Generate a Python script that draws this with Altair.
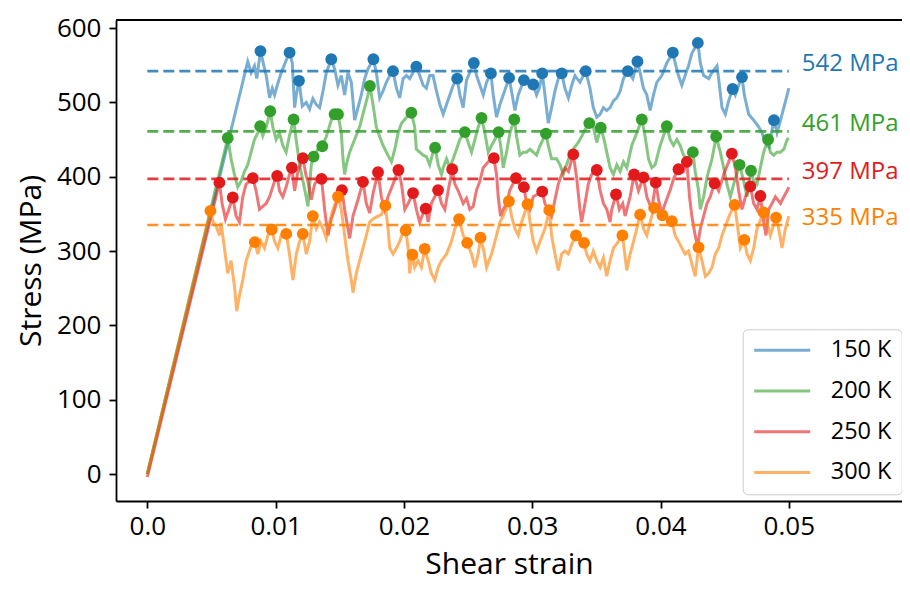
import altair as alt
import pandas as pd

# ---------------- data ----------------
TEMPS = ["150 K", "200 K", "250 K", "300 K"]
COLORS = ["#1f78b4", "#33a02c", "#e31a1c", "#ff7f00"]
PLATEAU = [542, 461, 397, 335]
PLATEAU_LABELS = ["542 MPa", "461 MPa", "397 MPa", "335 MPa"]
PLATEAU_RANGE = [0.0, 0.05]
X_TICKS = [0.0, 0.01, 0.02, 0.03, 0.04, 0.05]
Y_TICKS = [0, 100, 200, 300, 400, 500, 600]

CURVE_150K = [
    (0.0, 0), (0.00783, 555), (0.00809, 540), (0.00835, 549), (0.00853, 532), (0.00882, 569),
    (0.00906, 551), (0.00927, 536), (0.00953, 506), (0.00974, 519), (0.00992, 510), (0.0102, 527),
    (0.01044, 540), (0.01083, 557), (0.01109, 567), (0.0113, 553), (0.01148, 493), (0.01161, 510),
    (0.01182, 529), (0.01208, 495), (0.01239, 500), (0.01265, 491), (0.0129, 505), (0.01317, 497),
    (0.01343, 493), (0.01369, 515), (0.01395, 540), (0.01434, 558), (0.0146, 545), (0.01486, 523),
    (0.01512, 536), (0.01538, 510), (0.01564, 540), (0.0159, 527), (0.01616, 476), (0.01642, 493),
    (0.01668, 510), (0.01694, 532), (0.0172, 545), (0.01762, 558), (0.01785, 540), (0.01811, 506),
    (0.01837, 515), (0.01863, 527), (0.0189, 536), (0.01915, 542), (0.01942, 519), (0.01967, 506),
    (0.01994, 532), (0.0202, 536), (0.02045, 532), (0.02097, 548), (0.02123, 536), (0.0215, 523),
    (0.02175, 519), (0.02201, 536), (0.02227, 536), (0.02254, 515), (0.0228, 497), (0.02306, 484),
    (0.02332, 497), (0.02358, 510), (0.02384, 523), (0.02415, 532), (0.02436, 510), (0.02462, 493),
    (0.02488, 530), (0.02545, 553), (0.02566, 536), (0.02592, 523), (0.02618, 510), (0.02644, 527),
    (0.02678, 539), (0.02696, 510), (0.02722, 480), (0.02748, 497), (0.02774, 510), (0.0282, 533),
    (0.02839, 515), (0.02865, 489), (0.02891, 510), (0.02935, 530), (0.0297, 527), (0.03008, 524),
    (0.03034, 510), (0.03055, 519), (0.03078, 539), (0.03099, 510), (0.03125, 472), (0.03151, 493),
    (0.03177, 515), (0.03203, 532), (0.0323, 539), (0.03255, 519), (0.03282, 506), (0.03308, 523),
    (0.03333, 536), (0.03372, 527), (0.03417, 542), (0.0345, 519), (0.03476, 493), (0.03503, 480),
    (0.03529, 484), (0.03555, 493), (0.03581, 489), (0.03607, 493), (0.03633, 502), (0.03659, 506),
    (0.03685, 515), (0.03711, 532), (0.03745, 542), (0.03784, 532), (0.0382, 555), (0.03841, 540),
    (0.03867, 519), (0.03893, 510), (0.03919, 489), (0.03945, 510), (0.03971, 527), (0.0401, 536),
    (0.04049, 553), (0.04096, 567), (0.04114, 553), (0.0414, 536), (0.04166, 523), (0.04192, 536),
    (0.04218, 549), (0.04244, 566), (0.04291, 580), (0.0431, 553), (0.04336, 536), (0.04375, 532),
    (0.04401, 540), (0.0444, 549), (0.04453, 532), (0.04479, 493), (0.04505, 484), (0.04531, 502),
    (0.04562, 518), (0.04583, 510), (0.04609, 523), (0.04635, 534), (0.04653, 510), (0.04687, 484),
    (0.04726, 476), (0.04765, 467), (0.04791, 459), (0.04817, 446), (0.04843, 440), (0.04884, 476),
    (0.04908, 459), (0.04935, 476), (0.04961, 493), (0.04987, 510), (0.05, 519),
]

CURVE_200K = [
    (0.0, 0), (0.00627, 452), (0.00653, 424), (0.00679, 403), (0.00705, 386), (0.00731, 394),
    (0.00757, 407), (0.00783, 416), (0.00809, 433), (0.00835, 450), (0.00861, 459), (0.0088, 468),
    (0.009, 455), (0.00927, 467), (0.00958, 488), (0.00978, 467), (0.01004, 450), (0.0103, 459),
    (0.01056, 442), (0.01082, 433), (0.01108, 455), (0.0114, 477), (0.0116, 450), (0.01187, 416),
    (0.01212, 395), (0.01239, 372), (0.01252, 360), (0.01278, 416), (0.01296, 427), (0.0133, 437),
    (0.01364, 441), (0.01395, 454), (0.01434, 476), (0.0146, 484), (0.01486, 484), (0.01512, 459),
    (0.01525, 424), (0.01538, 403), (0.01551, 416), (0.01577, 433), (0.01616, 450), (0.01655, 467),
    (0.01694, 493), (0.0172, 510), (0.01735, 522), (0.01759, 497), (0.01785, 467), (0.01811, 454),
    (0.01837, 442), (0.01863, 433), (0.0189, 424), (0.01903, 420), (0.01929, 437), (0.01955, 459),
    (0.01981, 472), (0.0202, 480), (0.02058, 486), (0.02084, 467), (0.02097, 437), (0.02123, 433),
    (0.0215, 429), (0.02175, 427), (0.02201, 416), (0.02227, 433), (0.02243, 439), (0.02267, 416),
    (0.02293, 403), (0.02306, 412), (0.02332, 424), (0.02358, 412), (0.02384, 424), (0.0241, 437),
    (0.02436, 450), (0.02475, 460), (0.02501, 446), (0.02527, 433), (0.02553, 450), (0.02579, 467),
    (0.02605, 479), (0.02631, 459), (0.02657, 433), (0.02683, 442), (0.02709, 450), (0.02738, 460),
    (0.02761, 433), (0.02774, 412), (0.028, 433), (0.02826, 459), (0.0286, 477), (0.02878, 454),
    (0.02904, 429), (0.0293, 433), (0.02956, 433), (0.02983, 437), (0.03008, 433), (0.03034, 429),
    (0.03061, 442), (0.03107, 458), (0.03125, 442), (0.03151, 424), (0.0319, 424), (0.03217, 416),
    (0.03242, 403), (0.03268, 416), (0.03294, 429), (0.0332, 437), (0.03359, 446), (0.03385, 454),
    (0.03411, 463), (0.03445, 472), (0.03476, 467), (0.03503, 446), (0.03534, 466), (0.0356, 450),
    (0.03581, 433), (0.03607, 412), (0.03633, 403), (0.03659, 416), (0.03685, 407), (0.03711, 420),
    (0.03737, 412), (0.03776, 442), (0.03815, 459), (0.03854, 477), (0.0388, 454), (0.03906, 424),
    (0.03932, 412), (0.03958, 416), (0.03997, 442), (0.04049, 468), (0.04075, 450), (0.04101, 442),
    (0.04127, 450), (0.04153, 442), (0.04179, 429), (0.04205, 424), (0.04252, 433), (0.0427, 407),
    (0.04296, 382), (0.0431, 356), (0.04336, 373), (0.04362, 399), (0.04401, 424), (0.04434, 454),
    (0.04466, 433), (0.04492, 412), (0.04518, 390), (0.04544, 373), (0.0457, 390), (0.04616, 416),
    (0.04648, 394), (0.04674, 373), (0.04705, 408), (0.04726, 394), (0.04752, 390), (0.04778, 412),
    (0.04804, 433), (0.04838, 450), (0.04856, 433), (0.04882, 429), (0.04908, 433), (0.04935, 433),
    (0.04961, 437), (0.04987, 450), (0.05, 452),
]

CURVE_250K = [
    (0.0, -4), (0.00562, 392), (0.00583, 364), (0.00609, 343), (0.00635, 356), (0.00666, 372),
    (0.00692, 347), (0.00718, 339), (0.00744, 373), (0.0077, 390), (0.00802, 394), (0.00822, 398),
    (0.00848, 381), (0.00874, 356), (0.009, 360), (0.00927, 364), (0.00953, 373), (0.00992, 394),
    (0.01012, 401), (0.0103, 381), (0.01056, 373), (0.01082, 386), (0.01108, 403), (0.01127, 412),
    (0.01148, 381), (0.01174, 407), (0.01212, 425), (0.01239, 400), (0.01252, 394), (0.01278, 369),
    (0.01304, 390), (0.01343, 399), (0.01358, 397), (0.01382, 356), (0.01408, 321), (0.01434, 343),
    (0.0146, 356), (0.01486, 373), (0.01517, 382), (0.01538, 356), (0.01564, 330), (0.01577, 317),
    (0.01603, 347), (0.01642, 369), (0.01681, 393), (0.01707, 364), (0.01733, 351), (0.01759, 377),
    (0.01798, 406), (0.01824, 373), (0.0185, 356), (0.01876, 373), (0.01915, 390), (0.01957, 409),
    (0.01981, 390), (0.02007, 356), (0.02033, 364), (0.02071, 378), (0.02097, 356), (0.02123, 339),
    (0.0215, 351), (0.0217, 357), (0.02189, 339), (0.02214, 364), (0.0224, 373), (0.02266, 382),
    (0.02293, 364), (0.02319, 356), (0.02345, 381), (0.02376, 410), (0.02397, 390), (0.02423, 381),
    (0.02462, 364), (0.02488, 371), (0.02514, 356), (0.0254, 360), (0.02566, 382), (0.02592, 394),
    (0.02618, 412), (0.02657, 420), (0.02701, 425), (0.02722, 403), (0.02735, 373), (0.02753, 347),
    (0.02774, 356), (0.028, 364), (0.02826, 382), (0.02873, 398), (0.02899, 390), (0.02935, 386),
    (0.02956, 364), (0.02983, 356), (0.03008, 373), (0.03047, 377), (0.03078, 380), (0.03099, 364),
    (0.03125, 356), (0.03151, 347), (0.03177, 369), (0.03203, 390), (0.03229, 403), (0.03255, 412),
    (0.03282, 407), (0.0332, 430), (0.03346, 399), (0.03372, 356), (0.03385, 339), (0.03411, 364),
    (0.03437, 390), (0.03463, 403), (0.03503, 409), (0.03529, 382), (0.03555, 364), (0.03581, 356),
    (0.03607, 339), (0.0362, 356), (0.03653, 376), (0.03679, 356), (0.03705, 364), (0.03724, 347),
    (0.03763, 373), (0.03794, 403), (0.03828, 381), (0.03867, 399), (0.03893, 373), (0.03932, 356),
    (0.03963, 392), (0.03984, 369), (0.0401, 351), (0.04036, 364), (0.04075, 382), (0.04106, 399),
    (0.0414, 410), (0.04179, 407), (0.04205, 420), (0.04226, 373), (0.04244, 347), (0.0427, 321),
    (0.04289, 306), (0.0431, 330), (0.04336, 347), (0.04362, 364), (0.04388, 373), (0.04421, 391),
    (0.04453, 381), (0.04492, 403), (0.04531, 420), (0.04556, 431), (0.04583, 412), (0.04609, 381),
    (0.04635, 356), (0.04661, 373), (0.047, 387), (0.04726, 364), (0.04752, 356), (0.04778, 374),
    (0.04804, 339), (0.04822, 321), (0.04843, 356), (0.04869, 364), (0.04895, 373), (0.04935, 364),
    (0.04961, 373), (0.04987, 381), (0.05, 386),
]

CURVE_300K = [
    (0.0, 0), (0.00492, 354), (0.00515, 338), (0.00536, 334), (0.00562, 321), (0.00575, 338),
    (0.00601, 304), (0.00627, 270), (0.00653, 287), (0.00679, 253), (0.00697, 219), (0.00718, 240),
    (0.00744, 261), (0.0077, 287), (0.00796, 300), (0.00822, 313), (0.00838, 312), (0.00861, 296),
    (0.00887, 313), (0.00913, 304), (0.0094, 321), (0.0097, 329), (0.00992, 313), (0.01018, 304),
    (0.01044, 321), (0.01083, 323), (0.01108, 296), (0.01135, 261), (0.01161, 296), (0.01187, 313),
    (0.01212, 323), (0.01239, 296), (0.01265, 313), (0.0129, 347), (0.01317, 330), (0.01343, 339),
    (0.01369, 330), (0.01395, 317), (0.01421, 339), (0.01447, 356), (0.01486, 373), (0.01512, 356),
    (0.01538, 321), (0.01564, 287), (0.0159, 261), (0.01603, 244), (0.01629, 270), (0.01655, 287),
    (0.01681, 304), (0.01707, 321), (0.01733, 339), (0.01759, 343), (0.01798, 347), (0.01824, 349),
    (0.01855, 361), (0.01876, 330), (0.0189, 304), (0.01915, 296), (0.01942, 304), (0.01967, 313),
    (0.01994, 326), (0.02014, 328), (0.02033, 304), (0.02045, 270), (0.02066, 295), (0.02084, 278),
    (0.0211, 287), (0.02136, 278), (0.02162, 303), (0.02189, 287), (0.02214, 270), (0.0224, 261),
    (0.02267, 278), (0.02293, 287), (0.02332, 296), (0.02371, 313), (0.02397, 330), (0.0243, 343),
    (0.02462, 321), (0.02493, 311), (0.02527, 296), (0.02553, 278), (0.02579, 296), (0.02597, 318),
    (0.02623, 300), (0.02644, 278), (0.02683, 296), (0.02722, 321), (0.02748, 339), (0.02774, 347),
    (0.02818, 367), (0.02839, 347), (0.02865, 330), (0.02891, 321), (0.02917, 339), (0.02964, 363),
    (0.02983, 339), (0.03008, 313), (0.03034, 300), (0.03061, 313), (0.03099, 330), (0.03133, 355),
    (0.03151, 321), (0.03177, 296), (0.03203, 274), (0.03229, 296), (0.03255, 300), (0.03282, 296),
    (0.03308, 309), (0.03341, 321), (0.03372, 313), (0.03404, 311), (0.03424, 296), (0.0345, 287),
    (0.03476, 300), (0.03503, 287), (0.03529, 278), (0.03555, 291), (0.03581, 266), (0.03607, 287),
    (0.03633, 304), (0.03672, 313), (0.03703, 321), (0.03737, 274), (0.03763, 296), (0.03802, 321),
    (0.03841, 349), (0.03867, 330), (0.03893, 321), (0.03919, 339), (0.0395, 358), (0.03984, 351),
    (0.04015, 348), (0.04049, 343), (0.04088, 340), (0.04114, 321), (0.0414, 313), (0.04166, 304),
    (0.04192, 296), (0.04218, 300), (0.04244, 283), (0.0427, 266), (0.04296, 305), (0.04323, 287),
    (0.04349, 266), (0.04375, 270), (0.04401, 278), (0.04427, 296), (0.04453, 304), (0.04479, 321),
    (0.04518, 339), (0.04544, 351), (0.04577, 362), (0.04596, 339), (0.04622, 304), (0.04653, 315),
    (0.04674, 296), (0.047, 287), (0.04726, 304), (0.04752, 330), (0.04803, 352), (0.0483, 339),
    (0.04856, 321), (0.049, 345), (0.04921, 330), (0.04947, 304), (0.04973, 330), (0.05, 347),
]

PEAKS_150K = [
    (0.00882, 569), (0.01109, 567), (0.01182, 529), (0.01434, 558), (0.01762, 558), (0.01915, 542),
    (0.02097, 548), (0.02415, 532), (0.02545, 553), (0.02678, 539), (0.0282, 533), (0.02935, 530),
    (0.03008, 524), (0.03078, 539), (0.0323, 539), (0.03417, 542), (0.03745, 542), (0.0382, 555),
    (0.04096, 567), (0.04291, 580), (0.04562, 518), (0.04635, 534), (0.04884, 476),
]
PEAKS_200K = [
    (0.00627, 452), (0.0088, 468), (0.00958, 488), (0.0114, 477), (0.01296, 427), (0.01364, 441),
    (0.0146, 484), (0.01486, 484), (0.01735, 522), (0.02058, 486), (0.02243, 439), (0.02475, 460),
    (0.02605, 479), (0.02738, 460), (0.0286, 477), (0.03107, 458), (0.03445, 472), (0.03534, 466),
    (0.03854, 477), (0.04049, 468), (0.04252, 433), (0.04434, 454), (0.04616, 416), (0.04705, 408),
    (0.04838, 450),
]
PEAKS_250K = [
    (0.00562, 392), (0.00666, 372), (0.00822, 398), (0.01012, 401), (0.01127, 412), (0.01212, 425),
    (0.01358, 397), (0.01517, 382), (0.01681, 393), (0.01798, 406), (0.01957, 409), (0.02071, 378),
    (0.0217, 357), (0.02266, 382), (0.02376, 410), (0.02701, 425), (0.02873, 398), (0.02935, 386),
    (0.03078, 380), (0.0332, 430), (0.03503, 409), (0.03653, 376), (0.03794, 403), (0.03867, 399),
    (0.03963, 392), (0.0414, 410), (0.04205, 420), (0.04421, 391), (0.04556, 431), (0.047, 387),
    (0.04778, 374),
]
PEAKS_300K = [
    (0.00492, 354), (0.00838, 312), (0.0097, 329), (0.01083, 323), (0.01212, 323), (0.0129, 347),
    (0.01486, 373), (0.01855, 361), (0.02014, 328), (0.02066, 295), (0.02162, 303), (0.0243, 343),
    (0.02493, 311), (0.02597, 318), (0.02818, 367), (0.02964, 363), (0.03133, 355), (0.03341, 321),
    (0.03404, 311), (0.03703, 321), (0.03841, 349), (0.0395, 358), (0.04015, 348), (0.04088, 340),
    (0.04296, 305), (0.04577, 362), (0.04653, 315), (0.04803, 352), (0.049, 345),
]

# ---------------- tables ----------------
curves = dict(zip(TEMPS, [CURVE_150K, CURVE_200K, CURVE_250K, CURVE_300K]))
peaks = dict(zip(TEMPS, [PEAKS_150K, PEAKS_200K, PEAKS_250K, PEAKS_300K]))

line_rows, peak_rows = [], []
for k, t in enumerate(TEMPS):
    for i, (x, y) in enumerate(curves[t]):
        line_rows.append({"T": t, "k": k, "i": i, "strain": x, "stress": y})
    for x, y in peaks[t]:
        peak_rows.append({"T": t, "k": k, "strain": x, "stress": y})
df_lines = pd.DataFrame(line_rows)
df_peaks = pd.DataFrame(peak_rows)
df_plateau = pd.DataFrame({
    "T": TEMPS, "level": PLATEAU, "label": PLATEAU_LABELS,
    "x0": [PLATEAU_RANGE[0]] * 4, "x1": [PLATEAU_RANGE[1]] * 4,
})

# ---------------- layout ----------------
# whole chart: 108 + 786 = 894 px wide, 12 + 481 + 81 = 574 px tall
W, H = 786, 481
FONT = "Open Sans"

color_scale = alt.Scale(domain=TEMPS, range=COLORS)
x_scale = alt.Scale(domain=[-0.00244, 0.05882], nice=False, zero=False)
y_scale = alt.Scale(domain=[-36.3, 610.8], nice=False, zero=False)

x_axis = alt.Axis(
    values=X_TICKS, grid=False,
    labelExpr="datum.value == 0 ? '0.0' : format(datum.value, '.2f')",
    tickSize=7, tickWidth=1.8, tickColor="black",
    domainColor="black", domainWidth=1.8,
    labelFont=FONT, labelFontSize=26, labelColor="black", labelPadding=5,
    titleFont=FONT, titleFontSize=30, titleFontWeight="normal", titleColor="black",
    titlePadding=10.5,
)
y_axis = alt.Axis(
    values=Y_TICKS, grid=False, format="d",
    tickSize=7, tickWidth=1.8, tickColor="black",
    domainColor="black", domainWidth=1.8,
    labelFont=FONT, labelFontSize=26, labelColor="black", labelPadding=8,
    titleFont=FONT, titleFontSize=30, titleFontWeight="normal", titleColor="black",
    titlePadding=10,
)

legend = alt.Legend(
    orient="none", legendX=626.7, legendY=309.3,
    symbolType="stroke", symbolSize=3136, symbolStrokeWidth=3, symbolOpacity=0.6,
    labelFont=FONT, labelFontSize=23.5, labelColor="black", labelOffset=19,
    padding=10, rowPadding=16.7, clipHeight=22,
    strokeColor="#cccccc", cornerRadius=5, fillColor="rgba(255,255,255,0.85)",
)

lines = alt.Chart(df_lines).mark_line(strokeWidth=3, opacity=0.6).encode(
    x=alt.X("strain:Q", scale=x_scale, axis=x_axis, title="Shear strain"),
    y=alt.Y("stress:Q", scale=y_scale, axis=y_axis, title="Stress (MPa)"),
    color=alt.Color("T:N", scale=color_scale, legend=legend, title=None),
    order=alt.Order("i:Q"),
)

dashes = alt.Chart(df_plateau).mark_rule(strokeDash=[11, 5], strokeWidth=2.6, opacity=0.85).encode(
    x="x0:Q", x2="x1:Q", y="level:Q",
    color=alt.Color("T:N", scale=color_scale, legend=None),
)

dots = alt.Chart(df_peaks).mark_circle(size=140, opacity=1).encode(
    x="strain:Q", y="stress:Q",
    color=alt.Color("T:N", scale=color_scale, legend=None),
)

labels = alt.Chart(df_plateau).mark_text(
    align="left", baseline="alphabetic", dx=13, dy=0, font=FONT, fontSize=24,
).encode(
    x="x1:Q", y="level:Q", text="label:N",
    color=alt.Color("T:N", scale=color_scale, legend=None),
)

top_spine = alt.Chart(pd.DataFrame({"z": [0]})).mark_rule(color="black", strokeWidth=1.8).encode(
    x=alt.value(0), x2=alt.value(W), y=alt.value(0),
)

chart = alt.layer(lines, dashes, dots, labels, top_spine).properties(
    width=W, height=H,
    autosize=alt.AutoSizeParams(type="none"),
    padding={"left": 108, "top": 12, "right": 0, "bottom": 81},
    background="white",
).configure_view(strokeWidth=0)

chart.save("out.html", embed_options={"renderer": "svg", "actions": False})
